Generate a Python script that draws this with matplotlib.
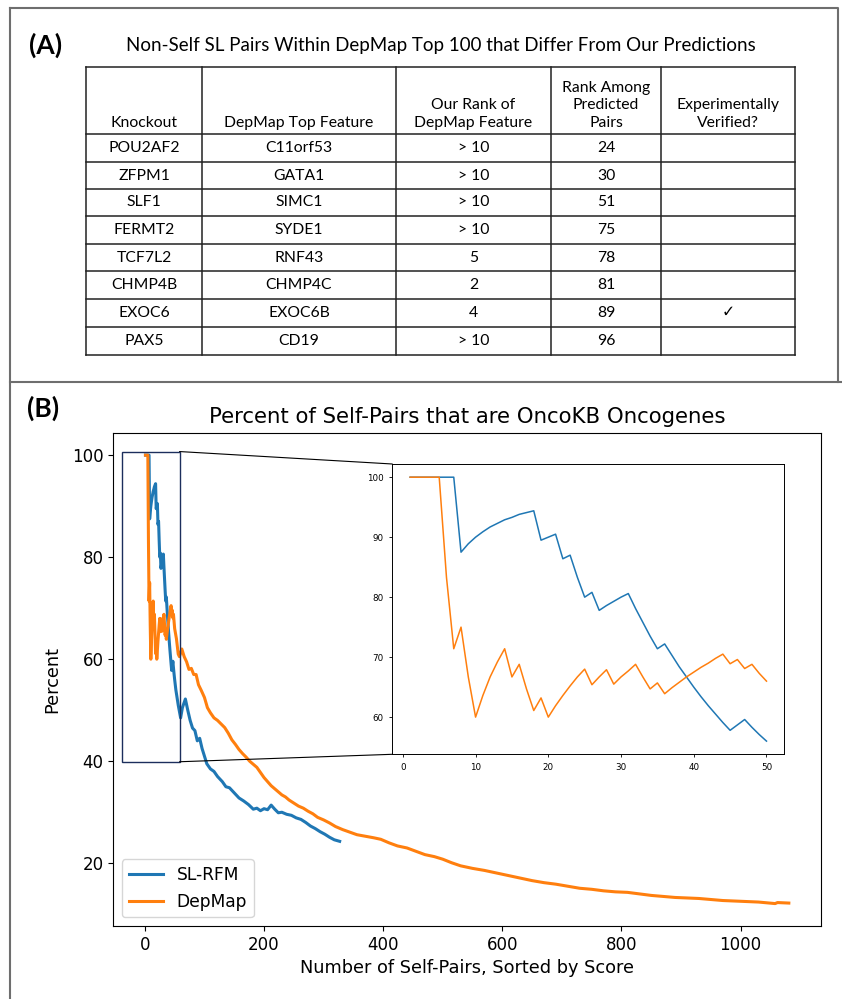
import matplotlib
matplotlib.use("Agg")
import matplotlib.pyplot as plt
from matplotlib.patches import Rectangle, ConnectionPatch

# ---- panel (A) table ----
table_title = "Non-Self SL Pairs Within DepMap Top 100 that Differ From Our Predictions"
headers = ["Knockout", "DepMap Top Feature", "Our Rank of\nDepMap Feature",
           "Rank Among\nPredicted\nPairs", "Experimentally\nVerified?"]
knockouts = ["POU2AF2", "ZFPM1", "SLF1", "FERMT2", "TCF7L2", "CHMP4B", "EXOC6", "PAX5"]
top_features = ["C11orf53", "GATA1", "SIMC1", "SYDE1", "RNF43", "CHMP4C", "EXOC6B", "CD19"]
our_rank = ["> 10", "> 10", "> 10", "> 10", "5", "2", "4", "> 10"]
pred_rank = ["24", "30", "51", "75", "78", "81", "89", "96"]
verified = ["", "", "", "", "", "", "\u2713", ""]

# ---- panel (B) curves ----
# first 50 self-pairs
n_first = list(range(1, 51))
slrfm_first = [100, 100, 100, 100, 100, 100, 100, 87.5, 88.9, 90.0,
               90.9, 91.7, 92.3, 92.9, 93.3, 93.8, 94.1, 94.4, 89.5, 90.0,
               90.5, 86.4, 87.0, 83.3, 80.0, 80.8, 77.8, 78.6, 79.3, 80.0,
               80.6, 78.1, 75.8, 73.5, 71.4, 72.2, 70.3, 68.4, 66.7, 65.0,
               63.4, 61.9, 60.5, 59.1, 57.8, 58.7, 59.6, 58.3, 57.1, 56.0]
depmap_first = [100, 100, 100, 100, 100, 83.3, 71.4, 75.0, 66.7, 60.0,
                63.6, 66.7, 69.2, 71.4, 66.7, 68.8, 64.7, 61.1, 63.2, 60.0,
                61.9, 63.6, 65.2, 66.7, 68.0, 65.4, 66.7, 67.9, 65.5, 66.7,
                67.7, 68.8, 66.7, 64.7, 65.7, 63.9, 64.9, 65.8, 66.7, 67.5,
                68.3, 69.0, 69.8, 70.5, 68.9, 69.6, 68.1, 68.8, 67.3, 66.0]

# rest of the curves
slrfm_n_rest = [52, 56, 60, 63, 68, 72, 76, 80, 84, 88, 92, 96, 100, 104, 110,
                116, 122, 130, 136, 142, 150, 158, 166, 174, 182, 188, 194, 200,
                206, 212, 218, 224, 230, 238, 246, 254, 262, 270, 278, 286, 294,
                302, 310, 318, 327]
slrfm_rest = [54.0, 51.0, 48.5, 50.5, 52.2, 50.0, 48.0, 46.5, 46.0, 44.0, 44.5,
              42.5, 41.0, 39.5, 38.5, 38.0, 37.0, 36.0, 35.0, 34.8, 33.8, 32.8,
              32.2, 31.5, 30.6, 30.8, 30.3, 30.7, 30.5, 31.4, 30.6, 29.9, 30.0,
              29.6, 29.4, 28.9, 28.6, 28.0, 27.3, 26.8, 26.2, 25.7, 25.1, 24.6,
              24.3]
depmap_n_rest = [53, 56, 58, 62, 66, 70, 74, 78, 82, 86, 90, 95, 100, 105, 110,
                 116, 122, 128, 134, 140, 146, 152, 158, 164, 170, 176, 182, 188,
                 194, 200, 206, 212, 218, 224, 230, 236, 242, 250, 258, 266, 274,
                 282, 290, 300, 310, 320, 332, 344, 356, 370, 384, 396, 410, 424,
                 440, 456, 470, 486, 500, 515, 530, 550, 570, 590, 610, 630, 650,
                 670, 690, 710, 730, 750, 770, 790, 810, 830, 850, 870, 890, 910,
                 930, 950, 970, 990, 1010, 1030, 1050, 1058, 1062, 1081]
depmap_rest = [64.0, 61.0, 60.5, 62.0, 60.5, 59.5, 58.0, 58.2, 57.0, 57.0, 55.0,
               53.8, 52.5, 50.5, 49.5, 48.5, 48.0, 47.3, 46.6, 45.5, 44.2, 43.3,
               42.3, 41.5, 40.8, 40.0, 39.4, 38.8, 37.8, 36.8, 36.0, 35.2, 34.6,
               34.0, 33.4, 33.0, 32.4, 31.8, 31.2, 30.8, 30.2, 29.7, 29.0, 28.5,
               27.9, 27.2, 26.6, 26.1, 25.6, 25.3, 25.0, 24.7, 24.0, 23.4, 23.0,
               22.3, 21.7, 21.3, 20.8, 20.1, 19.5, 19.0, 18.6, 18.1, 17.6, 17.1,
               16.6, 16.2, 15.9, 15.5, 15.1, 14.9, 14.6, 14.4, 14.3, 14.0, 13.7,
               13.5, 13.3, 13.2, 13.1, 12.9, 12.7, 12.6, 12.5, 12.4, 12.2, 12.1,
               12.3, 12.2]

BLUE = "#1f77b4"
ORANGE = "#ff7f0e"
TABLE_FONT = ["Lato", "DejaVu Sans"]

W, H = 842, 999
fig = plt.figure(figsize=(W / 100, H / 100), dpi=100)

# background axes in pixel coordinates for panel frames and the table
bg = fig.add_axes([0, 0, 1, 1])
bg.set_xlim(0, W)
bg.set_ylim(H, 0)
bg.axis("off")

frame_kw = dict(color="#6e6e6e", lw=1.5)
bg.plot([10, 838, 838], [8, 8, 382], **frame_kw)
bg.plot([10, 10], [8, 999], **frame_kw)
bg.plot([10, 842], [382, 382], **frame_kw)

bg.text(29, 45, "(A)", fontsize=19, fontweight="bold", family=TABLE_FONT, va="center")
bg.text(441, 45, table_title, fontsize=13.5, family=TABLE_FONT, ha="center", va="center")
bg.text(27, 408, "(B)", fontsize=19, fontweight="bold", family=TABLE_FONT, va="center")

col_edges = [86, 202, 396, 551, 661, 795]
row_edges = [67, 134, 162, 189, 216, 244, 271, 299, 327, 355]
line_kw = dict(color="#222222", lw=1.1)
for x in col_edges:
    bg.plot([x, x], [row_edges[0], row_edges[-1]], **line_kw)
for y in row_edges:
    bg.plot([col_edges[0], col_edges[-1]], [y, y], **line_kw)

centers = [(col_edges[i] + col_edges[i + 1]) / 2 for i in range(len(col_edges) - 1)]
for c, h in zip(centers, headers):
    bg.text(c, row_edges[1] - 4, h, fontsize=11.3, family=TABLE_FONT,
            ha="center", va="bottom", linespacing=1.32)

columns = [knockouts, top_features, our_rank, pred_rank, verified]
for j, col in enumerate(columns):
    for i, val in enumerate(col):
        y = (row_edges[i + 1] + row_edges[i + 2]) / 2
        bg.text(centers[j], y, val, fontsize=11.3, family=TABLE_FONT,
                ha="center", va="center")

# ---- main plot ----
ax = fig.add_axes([113.3 / W, 1 - 926 / H, 707.7 / W, 493.3 / H])
ax.plot(n_first + slrfm_n_rest, slrfm_first + slrfm_rest, color=BLUE, lw=2.2, label="SL-RFM")
ax.plot(n_first + depmap_n_rest, depmap_first + depmap_rest, color=ORANGE, lw=2.2, label="DepMap")
# freeze the autoscaled limits before adding the zoom box
ax.set_xlim(ax.get_xlim())
ax.set_ylim(ax.get_ylim())
ax.set_title("Percent of Self-Pairs that are OncoKB Oncogenes", fontsize=15.3, pad=7)
ax.set_xlabel("Number of Self-Pairs, Sorted by Score", fontsize=12.8)
ax.set_ylabel("Percent", fontsize=12.8, labelpad=8)
ax.tick_params(labelsize=12)
ax.legend(loc="lower left", fontsize=12.3)

# zoom box drawn on the main plot
box_x0, box_x1, box_y0, box_y1 = -37.6, 58.2, 39.9, 100.7
ax.add_patch(Rectangle((box_x0, box_y0), box_x1 - box_x0, box_y1 - box_y0,
                       fill=False, edgecolor="#1c2e5c", lw=1.0, zorder=5))

# ---- inset ----
axins = fig.add_axes([392.3 / W, 1 - 754.3 / H, 392 / W, 290.3 / H])
axins.plot(n_first, slrfm_first, color=BLUE, lw=1.1)
axins.plot(n_first, depmap_first, color=ORANGE, lw=1.1)
axins.tick_params(labelsize=6.3, length=2.5, width=0.6)
for s in axins.spines.values():
    s.set_linewidth(0.7)

for corner in [(0, 1), (0, 0)]:
    yb = box_y1 if corner[1] == 1 else box_y0
    con = ConnectionPatch(xyA=(box_x1, yb), coordsA=ax.transData,
                          xyB=corner, coordsB=axins.transAxes,
                          color="black", lw=0.8)
    fig.add_artist(con)

fig.savefig("out.png", dpi=100)
